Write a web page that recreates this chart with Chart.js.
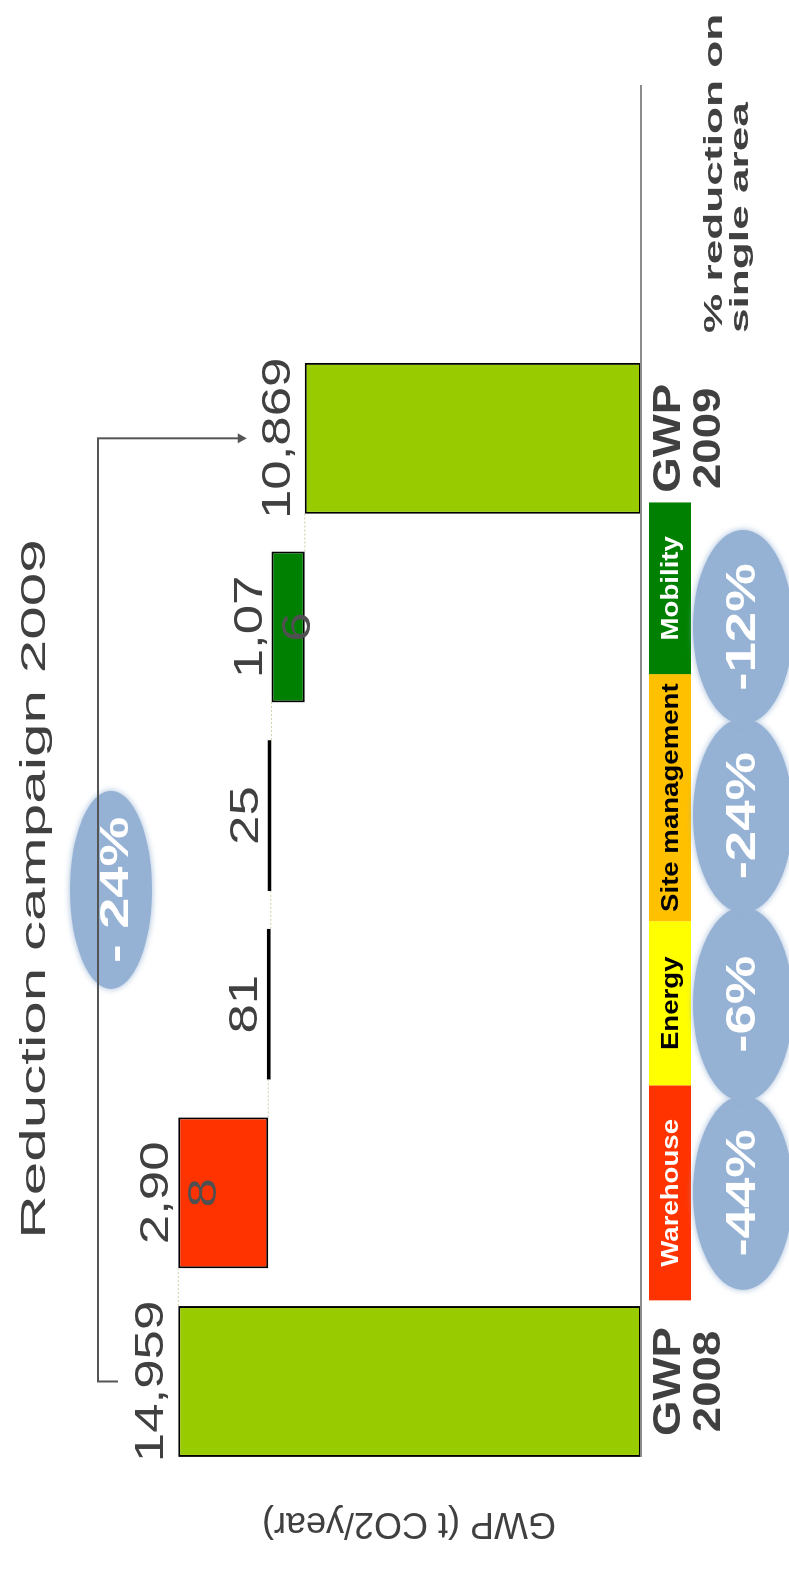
<!DOCTYPE html>
<html>
<head>
<meta charset="utf-8">
<script src="https://cdn.jsdelivr.net/npm/chart.js@4.4.1/dist/chart.umd.min.js"></script>
<style>
  html, body { margin: 0; padding: 0; background: #fff; }
  body { width: 789px; height: 1573px; overflow: hidden; position: relative; }
  /* the chart is laid out lying down and turned a quarter to the left */
  #turn { position: absolute; left: 0; top: 0; width: 1573px; height: 789px;
          transform-origin: 0 0; transform: translateY(1573px) rotate(-90deg); }
</style>
</head>
<body>
<div id="turn"><canvas id="chart" width="1573" height="789"></canvas></div>
<script>
const categories = ['GWP 2008', 'Warehouse', 'Energy', 'Site management', 'Mobility', 'GWP 2009'];
const gwp2008 = 14959;
const reductions = [2908, 81, 25, 1076];
const gwp2009 = 10869;
const areaPct = [-44, -6, -24, -12];
const totalPct = -24;
const yMin = 0, yMax = 15000;

const FONT = '"Liberation Sans", Arial, sans-serif';
const TEXT = '#404040';
const barColors = ['#99CC00', '#FF3300', '#FFFF00', '#FFC000', '#008000', '#99CC00'];
const tagText = ['#ffffff', '#000000', '#000000', '#ffffff'];
const tagEdges = [0.43, 1.57, 2.44, 3.75, 4.66]; // label strip borders, in category units

// floating bars for the waterfall
const ranges = [[0, gwp2008]];
let level = gwp2008;
reductions.forEach(r => { ranges.push([level - r, level]); level -= r; });
ranges.push([0, gwp2009]);
const shown = [gwp2008, ...reductions, gwp2009];

function say(ctx, txt, x, y, o) {
    ctx.save();
    ctx.font = o.font;
    ctx.fillStyle = o.color || TEXT;
    ctx.textAlign = o.align || 'center';
    ctx.textBaseline = 'alphabetic';
    ctx.translate(x, y);
    ctx.scale(o.sx || 1, 1);
    ctx.fillText(txt, 0, 0);
    ctx.restore();
}

function blob(ctx, cx, cy, rx, ry) {
    ctx.save();
    ctx.fillStyle = '#95B1D4';
    ctx.shadowColor = 'rgba(149,177,212,0.9)';
    ctx.shadowBlur = 6;
    ctx.beginPath();
    ctx.ellipse(cx, cy, rx, ry, 0, 0, Math.PI * 2);
    ctx.fill();
    ctx.restore();
}

const waterfall = {
    id: 'waterfall',
    afterDatasetsDraw(chart) {
        const { ctx, chartArea: area, scales: { x, y } } = chart;
        const bars = chart.getDatasetMeta(0).data;
        const base = y.getPixelForValue(0);
        const x0 = x.getPixelForValue(0);
        const step = x.getPixelForValue(1) - x0;
        const last = bars.length - 1;

        // --- dotted connectors between the bars ---
        ctx.save();
        ctx.strokeStyle = '#cfcfa8';
        ctx.lineWidth = 1;
        ctx.setLineDash([2, 2]);
        for (let i = 0; i < last; i++) {
            const py = y.getPixelForValue(i === 0 ? ranges[0][1] : ranges[i][0]);
            ctx.beginPath();
            ctx.moveTo(bars[i].x + bars[i].width / 2, py);
            ctx.lineTo(bars[i + 1].x - bars[i + 1].width / 2, py);
            ctx.stroke();
        }
        ctx.restore();

        // --- base line ---
        ctx.save();
        ctx.strokeStyle = '#8c8c8c';
        ctx.lineWidth = 2;
        ctx.beginPath();
        ctx.moveTo(bars[0].x - bars[0].width / 2, base);
        ctx.lineTo(area.right + 259, base);
        ctx.stroke();
        ctx.restore();

        // --- value labels ---
        const vf = '40px ' + FONT;
        bars.forEach((b, i) => {
            const top = Math.min(b.y, b.base);
            const txt = shown[i].toLocaleString('en-US');
            if (i === 0 || i === last) {
                say(ctx, txt, b.x, top - 15, { font: vf, sx: 1.32 });
            } else {
                const lines = txt.length > 4 ? [txt.slice(0, 4), txt.slice(4)] : [txt];
                lines.forEach((ln, k) => say(ctx, ln, b.x, top - 10 + k * 48,
                    { font: vf, sx: 1.32, color: k ? '#505050' : TEXT }));
            }
        });

        // --- coloured area tags ---
        for (let k = 0; k < 4; k++) {
            const a = x0 + tagEdges[k] * step, e = x0 + tagEdges[k + 1] * step;
            ctx.fillStyle = barColors[k + 1];
            ctx.fillRect(a, base + 8, e - a, 42);
            say(ctx, categories[k + 1], (a + e) / 2, base + 37,
                { font: 'bold 24px ' + FONT, sx: 1.15, color: tagText[k] });
        }

        // --- GWP year labels ---
        [0, last].forEach(i => {
            const [w1, w2] = categories[i].split(' ');
            say(ctx, w1, bars[i].x, base + 39, { font: 'bold 38px ' + FONT, sx: 1.2 });
            say(ctx, w2, bars[i].x, base + 79, { font: 'bold 38px ' + FONT, sx: 1.2 });
        });

        // --- % per area ---
        areaPct.forEach((p, k) => {
            const cx = bars[k + 1].x;
            blob(ctx, cx, base + 102, 97, 50);
            say(ctx, `${p}%`, cx, base + 114, { font: 'bold 42px ' + FONT, sx: 1.3, color: '#ffffff' });
        });
        say(ctx, '% reduction on', area.right + 11, base + 81, { font: 'bold 26px ' + FONT, sx: 1.7, align: 'left' });
        say(ctx, 'single area', area.right + 11, base + 107, { font: 'bold 26px ' + FONT, sx: 1.7, align: 'left' });

        // --- title ---
        say(ctx, 'Reduction campaign 2009', area.left + 237, 45, { font: '35px ' + FONT, sx: 1.72, align: 'left' });

        // --- bracket 2008 -> 2009 ---
        const bx0 = bars[0].x, bx1 = bars[last].x;
        const top5 = Math.min(bars[last].y, bars[last].base);
        const lv = area.top - 79;
        const mid = (bx0 + bx1) / 2 + 20;
        blob(ctx, mid, lv + 13, 99, 41);
        ctx.save();
        ctx.strokeStyle = '#555';
        ctx.lineWidth = 2;
        ctx.beginPath();
        ctx.moveTo(bx0, lv + 20);
        ctx.lineTo(bx0, lv);
        ctx.lineTo(bx1, lv);
        ctx.lineTo(bx1, top5 - 66);
        ctx.stroke();
        ctx.fillStyle = '#555';
        ctx.beginPath();
        ctx.moveTo(bx1 - 5, top5 - 67);
        ctx.lineTo(bx1 + 5, top5 - 67);
        ctx.lineTo(bx1, top5 - 58);
        ctx.closePath();
        ctx.fill();
        ctx.restore();
        say(ctx, `- ${Math.abs(totalPct)}%`, mid, lv + 30, { font: 'bold 40px ' + FONT, sx: 1.4, color: '#ffffff' });
    }
};

new Chart(document.getElementById('chart'), {
    type: 'bar',
    data: {
        labels: categories,
        datasets: [{
            data: ranges,
            backgroundColor: barColors,
            borderColor: '#000',
            borderWidth: 2,
            borderSkipped: false,
            minBarLength: 4,
            barPercentage: 0.8,
            categoryPercentage: 1
        }]
    },
    options: {
        responsive: false,
        animation: false,
        layout: { padding: { left: 24, right: 344, top: 177, bottom: 148 } },
        plugins: { legend: { display: false }, tooltip: { enabled: false } },
        scales: {
            x: { display: false },
            y: {
                min: yMin, max: yMax,
                grid: { display: false },
                border: { display: false },
                ticks: { display: false },
                title: { display: true, text: 'GWP (t CO2/year)', color: TEXT,
                         font: { family: FONT, size: 36 }, padding: { top: 4, bottom: 18 } }
            }
        }
    },
    plugins: [waterfall]
});
</script>
</body>
</html>
